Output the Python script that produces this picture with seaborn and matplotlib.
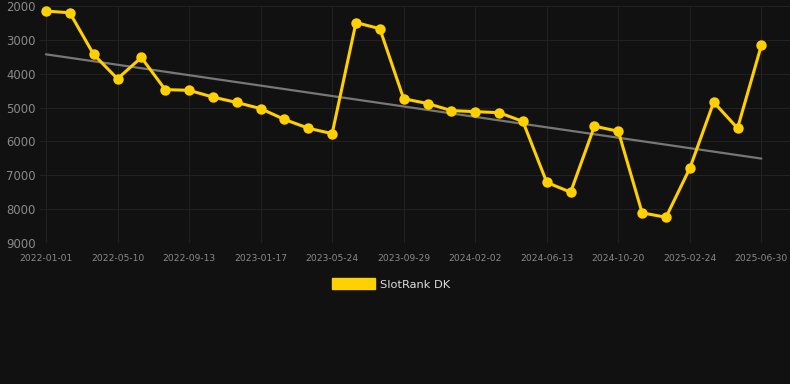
import numpy as np
import pandas as pd
import matplotlib
matplotlib.use("Agg")
import matplotlib.pyplot as plt
import matplotlib.patches as mpatches
import seaborn as sns

# ---- data ----
ranks = [2150, 2200, 3430, 4150, 3520, 4470, 4490, 4690, 4850, 5030,
         5350, 5610, 5770, 2490, 2670, 4740, 4880, 5090, 5120, 5150,
         5410, 7210, 7500, 5550, 5700, 8110, 8240, 6790, 4840, 5610, 3160]
tick_labels = ["2022-01-01", "2022-05-10", "2022-09-13", "2023-01-17",
               "2023-05-24", "2023-09-29", "2024-02-02", "2024-06-13",
               "2024-10-20", "2025-02-24", "2025-06-30"]
tick_step = 3
y_ticks = [2000, 3000, 4000, 5000, 6000, 7000, 8000, 9000]
series_name = "SlotRank DK"

# ---- style ----
BG = "#111111"
YEL = "#FFD000"
sns.set_theme(style="dark")
plt.rcParams['font.family'] = ['DejaVu Sans']

fig = plt.figure(figsize=(7.9, 3.84), dpi=100, facecolor=BG)
ax = fig.add_axes([40/790, 1-243/384, 1-40/790, (243-6)/384])
ax.set_facecolor(BG)

df = pd.DataFrame({"idx": np.arange(len(ranks)), "rank": ranks})
coef = np.polyfit(df["idx"], df["rank"], 1)
trend = pd.DataFrame({"idx": [0, len(ranks)-1]})
trend["rank"] = np.polyval(coef, trend["idx"])

sns.lineplot(data=trend, x="idx", y="rank", ax=ax, color="#777777", linewidth=1.6, zorder=2)
sns.lineplot(data=df, x="idx", y="rank", ax=ax, color=YEL, linewidth=2.2,
             marker="o", markersize=7.5, markeredgewidth=0, zorder=3)

ax.set_xlim(-0.25, 31.2)
ax.set_ylim(9000, 2000)
ax.set_yticks(y_ticks)
ax.set_yticklabels([str(v) for v in y_ticks], color="#8a8a8a", fontsize=8.4)
ax.set_xticks(np.arange(0, len(ranks), tick_step))
ax.set_xticklabels(tick_labels, color="#8a8a8a", fontsize=6.6)
ax.tick_params(axis="y", length=0, pad=3)
ax.tick_params(axis="x", length=0, pad=8)
ax.grid(True, color="#212121", linewidth=0.8)
for s in ax.spines.values():
    s.set_visible(False)
ax.set_xlabel("")
ax.set_ylabel("")

handle = mpatches.Patch(color=YEL, label=series_name)
fig.legend(handles=[handle], loc="center", bbox_to_anchor=(0.495, 1-284/384),
           frameon=False, fontsize=8.2, labelcolor="#dddddd",
           handlelength=3.8, handleheight=1.1, handletextpad=0.5)

fig.savefig("out.png", dpi=100, facecolor=BG)
